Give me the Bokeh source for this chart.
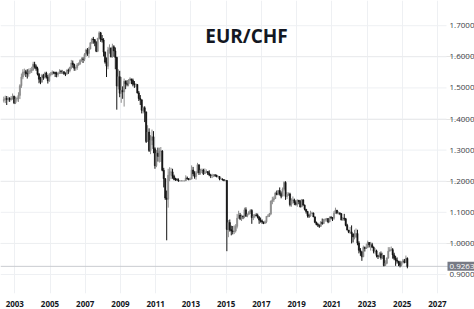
import numpy as np
import pandas as pd
from bokeh.plotting import figure
from bokeh.models import Range1d, FixedTicker, ColumnDataSource
from bokeh.core.properties import value
from bokeh.embed import file_html
from bokeh.resources import INLINE

# ---------------- data (monthly EUR/CHF) ----------------
start_month = "2002-05-01"
first_open = 1.460

close_px = [
    1.462, 1.466, 1.463, 1.466, 1.463, 1.467, 1.473, 1.452,                          # 2002 (May-Dec)
    1.464, 1.466, 1.476, 1.507, 1.535, 1.550, 1.552, 1.546, 1.545, 1.554, 1.555, 1.558,  # 2003
    1.576, 1.568, 1.562, 1.544, 1.528, 1.519, 1.540, 1.533, 1.548, 1.535, 1.523, 1.543,  # 2004
    1.545, 1.550, 1.549, 1.546, 1.544, 1.547, 1.553, 1.552, 1.552, 1.546, 1.545, 1.556,  # 2005
    1.555, 1.566, 1.580, 1.575, 1.563, 1.565, 1.574, 1.578, 1.588, 1.593, 1.592, 1.607,  # 2006
    1.622, 1.611, 1.625, 1.645, 1.657, 1.655, 1.647, 1.618, 1.660, 1.677, 1.657, 1.654,  # 2007
    1.615, 1.583, 1.570, 1.622, 1.628, 1.600, 1.632, 1.619, 1.598, 1.506, 1.536, 1.483,  # 2008
    1.492, 1.487, 1.521, 1.513, 1.512, 1.525, 1.529, 1.524, 1.512, 1.511, 1.511, 1.484,  # 2009
    1.466, 1.462, 1.428, 1.436, 1.423, 1.328, 1.358, 1.299, 1.332, 1.343, 1.304, 1.250,  # 2010
    1.290, 1.280, 1.297, 1.297, 1.235, 1.208, 1.146, 1.142, 1.219, 1.230, 1.230, 1.216,  # 2011
    1.206, 1.205, 1.204, 1.201, 1.201, 1.201, 1.201, 1.201, 1.210, 1.208, 1.205, 1.207,  # 2012
    1.236, 1.224, 1.215, 1.227, 1.253, 1.227, 1.235, 1.236, 1.224, 1.230, 1.231, 1.226,  # 2013
    1.220, 1.218, 1.218, 1.220, 1.219, 1.214, 1.215, 1.207, 1.207, 1.205, 1.202, 1.202,  # 2014
    1.045, 1.067, 1.044, 1.040, 1.038, 1.040, 1.055, 1.081, 1.091, 1.080, 1.087, 1.085,  # 2015
    1.108, 1.088, 1.094, 1.101, 1.106, 1.083, 1.087, 1.091, 1.090, 1.084, 1.075, 1.072,  # 2016
    1.069, 1.065, 1.070, 1.087, 1.088, 1.095, 1.136, 1.140, 1.144, 1.162, 1.157, 1.170,  # 2017
    1.160, 1.152, 1.175, 1.196, 1.151, 1.157, 1.159, 1.125, 1.138, 1.140, 1.131, 1.126,  # 2018
    1.139, 1.135, 1.117, 1.140, 1.123, 1.110, 1.103, 1.089, 1.088, 1.097, 1.098, 1.085,  # 2019
    1.068, 1.061, 1.059, 1.055, 1.068, 1.064, 1.076, 1.077, 1.080, 1.069, 1.083, 1.082,  # 2020
    1.081, 1.097, 1.107, 1.098, 1.098, 1.096, 1.075, 1.081, 1.079, 1.058, 1.043, 1.036,  # 2021
    1.037, 1.031, 1.021, 1.022, 1.032, 1.001, 0.978, 0.973, 0.957, 0.987, 0.984, 0.988,  # 2022
    1.003, 0.995, 0.996, 0.988, 0.975, 0.976, 0.961, 0.958, 0.967, 0.954, 0.961, 0.929,  # 2023
    0.936, 0.953, 0.975, 0.979, 0.980, 0.963, 0.952, 0.946, 0.943, 0.938, 0.930, 0.940,  # 2024
    0.944, 0.939, 0.952, 0.926,                                                      # 2025 (Jan-Apr)
]

high_px = [
    1.472, 1.475, 1.474, 1.472, 1.470, 1.474, 1.482, 1.475,
    1.472, 1.472, 1.486, 1.512, 1.546, 1.560, 1.562, 1.558, 1.560, 1.562, 1.564, 1.568,
    1.584, 1.584, 1.575, 1.568, 1.548, 1.535, 1.545, 1.545, 1.552, 1.552, 1.542, 1.548,
    1.551, 1.556, 1.553, 1.552, 1.552, 1.551, 1.560, 1.558, 1.558, 1.553, 1.550, 1.560,
    1.562, 1.568, 1.590, 1.588, 1.578, 1.568, 1.580, 1.582, 1.592, 1.598, 1.599, 1.612,
    1.626, 1.628, 1.632, 1.647, 1.660, 1.664, 1.657, 1.650, 1.660, 1.682, 1.680, 1.670,
    1.660, 1.617, 1.598, 1.632, 1.640, 1.630, 1.642, 1.637, 1.630, 1.600, 1.560, 1.555,
    1.535, 1.505, 1.530, 1.524, 1.525, 1.528, 1.534, 1.529, 1.530, 1.522, 1.515, 1.512,
    1.490, 1.477, 1.462, 1.440, 1.441, 1.423, 1.380, 1.370, 1.348, 1.366, 1.361, 1.309,
    1.300, 1.308, 1.308, 1.310, 1.300, 1.243, 1.210, 1.170, 1.240, 1.245, 1.243, 1.240,
    1.221, 1.211, 1.210, 1.209, 1.202, 1.203, 1.202, 1.202, 1.219, 1.215, 1.210, 1.212,
    1.251, 1.246, 1.232, 1.233, 1.259, 1.253, 1.240, 1.241, 1.240, 1.241, 1.238, 1.232,
    1.235, 1.223, 1.224, 1.223, 1.223, 1.221, 1.218, 1.216, 1.212, 1.209, 1.207, 1.205,
    1.204, 1.075, 1.077, 1.057, 1.056, 1.058, 1.062, 1.095, 1.105, 1.098, 1.093, 1.090,
    1.115, 1.116, 1.096, 1.104, 1.110, 1.110, 1.094, 1.095, 1.097, 1.096, 1.088, 1.083,
    1.077, 1.070, 1.074, 1.087, 1.094, 1.098, 1.138, 1.150, 1.151, 1.166, 1.170, 1.172,
    1.180, 1.167, 1.180, 1.200, 1.200, 1.165, 1.164, 1.163, 1.145, 1.151, 1.144, 1.138,
    1.142, 1.138, 1.140, 1.143, 1.142, 1.125, 1.110, 1.103, 1.095, 1.105, 1.102, 1.099,
    1.087, 1.070, 1.066, 1.061, 1.072, 1.080, 1.079, 1.081, 1.082, 1.081, 1.087, 1.088,
    1.085, 1.104, 1.115, 1.107, 1.103, 1.100, 1.095, 1.084, 1.095, 1.082, 1.063, 1.043,
    1.053, 1.058, 1.031, 1.044, 1.048, 1.044, 1.007, 0.985, 0.975, 0.993, 0.990, 0.999,
    1.009, 1.004, 1.005, 1.002, 0.990, 0.985, 0.980, 0.962, 0.972, 0.974, 0.970, 0.963,
    0.946, 0.955, 0.988, 0.988, 0.990, 0.985, 0.970, 0.960, 0.955, 0.942, 0.944, 0.942,
    0.950, 0.950, 0.961, 0.955,
]

low_px = [
    1.453, 1.451, 1.445, 1.456, 1.455, 1.459, 1.462, 1.448,
    1.448, 1.456, 1.455, 1.464, 1.500, 1.528, 1.540, 1.535, 1.530, 1.536, 1.546, 1.548,
    1.555, 1.562, 1.555, 1.540, 1.515, 1.512, 1.516, 1.526, 1.530, 1.530, 1.514, 1.519,
    1.537, 1.541, 1.544, 1.535, 1.534, 1.536, 1.545, 1.545, 1.545, 1.542, 1.538, 1.542,
    1.545, 1.550, 1.560, 1.565, 1.555, 1.555, 1.558, 1.571, 1.574, 1.584, 1.580, 1.586,
    1.600, 1.603, 1.597, 1.624, 1.641, 1.642, 1.634, 1.615, 1.615, 1.655, 1.648, 1.646,
    1.601, 1.578, 1.535, 1.560, 1.610, 1.598, 1.597, 1.600, 1.560, 1.430, 1.495, 1.470,
    1.452, 1.465, 1.440, 1.496, 1.505, 1.505, 1.514, 1.512, 1.505, 1.500, 1.502, 1.482,
    1.458, 1.445, 1.418, 1.418, 1.390, 1.323, 1.350, 1.294, 1.287, 1.316, 1.290, 1.240,
    1.245, 1.263, 1.260, 1.262, 1.232, 1.180, 1.140, 1.010, 1.115, 1.200, 1.207, 1.208,
    1.203, 1.201, 1.202, 1.198, 1.200, 1.200, 1.200, 1.200, 1.201, 1.205, 1.203, 1.204,
    1.206, 1.216, 1.208, 1.205, 1.226, 1.220, 1.221, 1.226, 1.220, 1.225, 1.226, 1.220,
    1.216, 1.210, 1.210, 1.213, 1.214, 1.213, 1.212, 1.203, 1.206, 1.202, 1.200, 1.200,
    0.975, 1.020, 1.038, 1.026, 1.029, 1.030, 1.035, 1.048, 1.086, 1.075, 1.072, 1.078,
    1.081, 1.085, 1.084, 1.092, 1.095, 1.063, 1.075, 1.081, 1.087, 1.080, 1.063, 1.067,
    1.063, 1.062, 1.063, 1.065, 1.084, 1.085, 1.091, 1.126, 1.133, 1.143, 1.155, 1.155,
    1.154, 1.145, 1.152, 1.170, 1.140, 1.143, 1.153, 1.119, 1.118, 1.128, 1.123, 1.122,
    1.118, 1.126, 1.116, 1.117, 1.122, 1.106, 1.096, 1.083, 1.082, 1.086, 1.094, 1.085,
    1.065, 1.058, 1.053, 1.050, 1.053, 1.060, 1.062, 1.070, 1.070, 1.065, 1.068, 1.077,
    1.072, 1.076, 1.096, 1.094, 1.093, 1.091, 1.075, 1.073, 1.073, 1.055, 1.042, 1.033,
    1.030, 1.000, 1.003, 1.013, 1.017, 0.994, 0.968, 0.960, 0.944, 0.956, 0.974, 0.982,
    0.985, 0.987, 0.977, 0.985, 0.968, 0.967, 0.955, 0.950, 0.955, 0.948, 0.950, 0.926,
    0.928, 0.933, 0.951, 0.975, 0.977, 0.951, 0.946, 0.928, 0.935, 0.927, 0.923, 0.926,
    0.935, 0.936, 0.937, 0.920,
]

year_ticks = [2003, 2005, 2007, 2009, 2011, 2013, 2015, 2017, 2019, 2021, 2023, 2025, 2027]
price_ticks = [0.9, 1.0, 1.1, 1.2, 1.3, 1.4, 1.5, 1.6, 1.7]
price_labels = ["0.9000", "1.0000", "1.1000", "1.2000", "1.3000", "1.4000", "1.5000", "1.6000", "1.7000"]
last_price = 0.9263
last_price_label = "0.9263"
title_text = "EUR/CHF"

# ---------------- layout helpers (pixel -> data along x) ----------------
X0, X1 = 2002.188, 2029.104          # frame spans the full 474 px
def xpx(px):
    return X0 + (X1 - X0) * px / 474.0
Y0, Y1 = 0.839, 1.781
PX_PER_Y = 292.0 / (Y1 - Y0)          # approx. frame height / price span

# ---------------- build ----------------
n = min(len(close_px), len(high_px), len(low_px))
months = pd.date_range(start=start_month, periods=n, freq="MS")
xs = np.asarray(months.year + (months.month - 0.5) / 12.0, dtype=float)
c = np.array(close_px[:n])
o = np.array([first_open] + close_px[:n - 1])
h = np.maximum(np.array(high_px[:n]), np.maximum(o, c))
l = np.minimum(np.array(low_px[:n]), np.minimum(o, c))
up = c >= o
UP_COL = "#8c8c8c"
DN_COL = "#131313"
colors = [UP_COL if u else DN_COL for u in up]

src = ColumnDataSource(dict(x=xs, h=h, l=l, top=np.maximum(o, c), bot=np.minimum(o, c), col=colors))

p = figure(width=474, height=309, output_backend="svg", toolbar_location=None,
           x_range=Range1d(X0, X1), y_range=Range1d(Y0, Y1),
           y_axis_location=None, min_border_left=0, min_border_top=0,
           min_border_right=0, min_border_bottom=0)
p.outline_line_color = None
p.background_fill_color = "white"
p.border_fill_color = "white"

# x axis
p.xaxis.ticker = FixedTicker(ticks=year_ticks)
p.xaxis.major_label_overrides = {t: str(t) for t in year_ticks}
p.xaxis.axis_line_color = None
p.xaxis.major_tick_line_color = None
p.xaxis.minor_tick_line_color = None
p.xaxis.major_tick_out = 0
p.xaxis.major_tick_in = 0
p.xaxis.major_label_standoff = 7
p.xaxis.major_label_text_font = "Open Sans"
p.xaxis.major_label_text_font_size = "8px"
p.xaxis.major_label_text_font_style = "bold"
p.xaxis.major_label_text_color = "#131722"
p.xgrid.grid_line_color = "#eef0f3"

GRID_END = xpx(446)
# horizontal grid lines (end before the price scale)
p.segment(x0=[X0] * len(price_ticks), y0=price_ticks, x1=[GRID_END] * len(price_ticks),
          y1=price_ticks, line_color="#eef0f3", line_width=1)

# current-price line
p.segment(x0=[X0], y0=[last_price], x1=[xpx(448)], y1=[last_price], line_color="#c9cbd0", line_width=1)

# candles
p.segment(x0="x", y0="h", x1="x", y1="l", line_color="col", line_width=1, source=src)
p.vbar(x="x", width=1 / 12 * 0.8, top="top", bottom="bot", fill_color="col",
       line_color="col", line_width=0.6, source=src)

# right price scale labels
p.text(x=[xpx(449)] * len(price_ticks), y=price_ticks, text=price_labels,
       text_font=value("Open Sans"), text_font_size="8px", text_color="#3a3d45",
       text_baseline="middle", text_align="left")

# last-price tag
half = 4.5 / PX_PER_Y
p.quad(left=[xpx(447)], right=[X1], bottom=[last_price - half], top=[last_price + half],
       fill_color="#777a84", line_color=None)
p.text(x=[xpx(449)], y=[last_price], text=[last_price_label],
       text_font=value("Open Sans"), text_font_size="8px", text_color="white",
       text_baseline="middle", text_align="left")

# title
p.text(x=[xpx(246)], y=[1.668], text=[title_text], text_font=value("Open Sans"),
       text_font_size="19px", text_font_style="bold", text_color="#131722",
       text_align="center", text_baseline="alphabetic")

open("out.html", "w").write(file_html(p, INLINE))
